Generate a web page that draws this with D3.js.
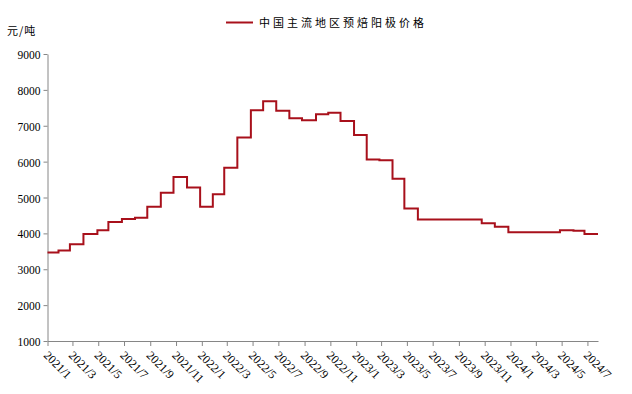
<!DOCTYPE html>
<html>
<head>
<meta charset="utf-8">
<script src="https://cdn.jsdelivr.net/npm/d3@7"></script>
<style>
  body { margin: 0; background: #fff; }
  .tick text { font-family: "Liberation Serif", "DejaVu Serif", serif; font-size: 11.5px; fill: #000; }
  .xax .tick text { font-size: 12px; }
  .cjk { font-family: "Noto Sans CJK SC", sans-serif; font-size: 11px; fill: #000; }
</style>
</head>
<body>
<div id="chart"></div>
<script>
// step dates (price changes) and price, 元/吨
var stepDates = [
  "2021-01-01", "2021-01-27", "2021-02-23", "2021-03-27", "2021-04-29", "2021-05-25",
  "2021-06-26", "2021-07-27", "2021-08-25", "2021-09-26", "2021-10-26", "2021-11-27",
  "2021-12-28", "2022-01-27", "2022-02-23", "2022-03-26", "2022-04-27", "2022-05-26",
  "2022-06-26", "2022-07-27", "2022-08-26", "2022-09-28", "2022-10-27", "2022-11-25",
  "2022-12-27", "2023-01-26", "2023-02-25", "2023-03-28", "2023-04-25", "2023-05-27",
  "2023-10-25", "2023-11-25", "2023-12-27", "2024-04-27", "2024-05-29", "2024-06-24",
  "2024-07-26"
];
var prices = [
  3470, 3525, 3700, 3980, 4090, 4320,
  4400, 4435, 4740, 5130, 5570, 5280,
  4740, 5090, 5830, 6670, 7435, 7685,
  7415, 7210, 7150, 7320, 7360, 7135,
  6740, 6060, 6040, 5525, 4695, 4385,
  4285, 4185, 4030, 4090, 4070, 3980,
  3980
];
var seriesName = "中国主流地区预焙阳极价格";
var unitLabel = "元/吨";
var xTickLabels = ["2021/1", "2021/3", "2021/5", "2021/7", "2021/9", "2021/11",
  "2022/1", "2022/3", "2022/5", "2022/7", "2022/9", "2022/11",
  "2023/1", "2023/3", "2023/5", "2023/7", "2023/9", "2023/11",
  "2024/1", "2024/3", "2024/5", "2024/7"];
var yTicks = [1000, 2000, 3000, 4000, 5000, 6000, 7000, 8000, 9000];

function init()
{
    var w = 632, h = 394;
    var left = 47.5, right = 598, top = 54, bottom = 341;

    var parse = d3.timeParse("%Y-%m-%d");
    var parseTick = d3.timeParse("%Y/%m");
    var data = stepDates.map(function(d, i){ return [parse(d), prices[i]]; });
    var tickDates = xTickLabels.map(function(t){ return parseTick(t); });

    var xScale = d3.scaleTime()
                .domain([parse(stepDates[0]), parse(stepDates[stepDates.length - 1])])
                .range([left, right]);
    var yScale = d3.scaleLinear()
                .domain([1000, 9000])
                .range([bottom, top]);

    var svg = d3.select("#chart").append("svg")
                .attr("width", w)
                .attr("height", h);

    // y axis
    var yAxis = d3.axisLeft(yScale).tickValues(yTicks).tickSize(4).tickSizeOuter(0)
                .tickFormat(d3.format("d"));
    var gy = svg.append("g")
        .attr("transform", "translate(" + left + ",0)")
        .call(yAxis);
    gy.selectAll("path, line").attr("stroke", "#868686");
    gy.selectAll("text").attr("x", -7).attr("dy", "0.4em");

    // x axis
    var xAxis = d3.axisBottom(xScale).tickValues(tickDates).tickSize(5).tickSizeOuter(0)
                .tickFormat(function(d, i){ return xTickLabels[i]; });
    var gx = svg.append("g")
        .attr("class", "xax")
        .attr("transform", "translate(0," + bottom + ")")
        .call(xAxis);
    gx.selectAll("path, line").attr("stroke", "#868686");
    gx.selectAll("text")
        .attr("text-anchor", "start")
        .attr("x", 0).attr("y", 0).attr("dy", "0.35em")
        .attr("transform", "translate(-2,12) rotate(45)");

    // the price line
    var line = d3.line()
                .x(function(d){ return xScale(d[0]); })
                .y(function(d){ return yScale(d[1]); })
                .curve(d3.curveStepAfter);
    svg.append("path")
        .datum(data)
        .attr("d", line)
        .attr("fill", "none")
        .attr("stroke", "#a8101b")
        .attr("stroke-width", 2);

    // legend
    svg.append("line")
        .attr("x1", 226).attr("x2", 253)
        .attr("y1", 22.5).attr("y2", 22.5)
        .attr("stroke", "#a8101b").attr("stroke-width", 2);
    svg.append("text")
        .attr("class", "cjk")
        .attr("x", 259).attr("y", 26.5)
        .attr("letter-spacing", "3px")
        .text(seriesName);

    // unit
    svg.append("text")
        .attr("class", "cjk")
        .attr("x", 7).attr("y", 35)
        .attr("letter-spacing", "1px")
        .text(unitLabel);
}
window.onload = init;
</script>
</body>
</html>
